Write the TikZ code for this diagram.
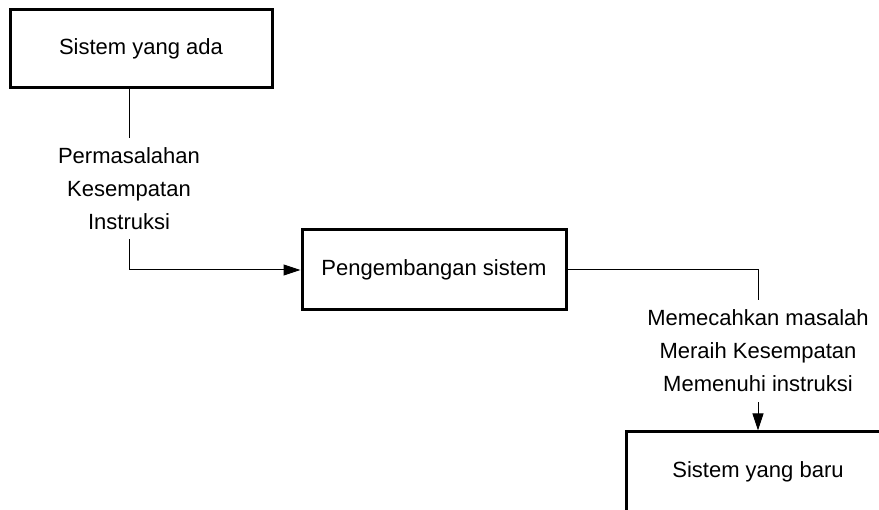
\documentclass[tikz,border=0pt]{standalone}
\usepackage{fontspec}
\setmainfont{Liberation Sans}
\usetikzlibrary{arrows.meta}

\tikzset{
	sysbox/.style={draw, line width=3pt, minimum width=262pt, minimum height=78pt, inner sep=0pt, font=\fontsize{22}{33}\selectfont},
	lbl/.style={inner sep=0pt, minimum height=101pt, align=center, font=\fontsize{22}{33}\selectfont},
	flow/.style={line width=1pt},
	tip/.style={-{Triangle[length=17pt 0 0,width=11pt 0 0]}}
}

\begin{document}
\begin{tikzpicture}[x=1pt,y=-1pt]
	%%%%% START %%%%%
	\useasboundingbox (0,0) rectangle (879,510);
	\clip (0,0) rectangle (879,510);
	
	\node[sysbox] (ada) at (141,49) {Sistem yang ada};
	\node[sysbox, minimum width=264pt, minimum height=80pt] (kembang) at (434,270) {Pengembangan sistem};
	\node[sysbox, minimum width=264pt, minimum height=80pt] (baru) at (758,472) {Sistem yang baru};
	
	\node[lbl] (masalah) at (129,188.5) {Permasalahan\\Kesempatan\\Instruksi};
	\node[lbl, minimum height=102pt] (hasil) at (758,351) {Memecahkan masalah\\Meraih Kesempatan\\Memenuhi instruksi};
	
	\draw[flow] (ada.south -| masalah.north) -- (masalah.north);
	\draw[flow, tip] (masalah.south) |- (kembang.west);
	\draw[flow] (kembang.east) -| (hasil.north);
	\draw[flow, tip] (hasil.south) -- (baru.north);
	%%%%% END %%%%%
\end{tikzpicture}
\end{document}
